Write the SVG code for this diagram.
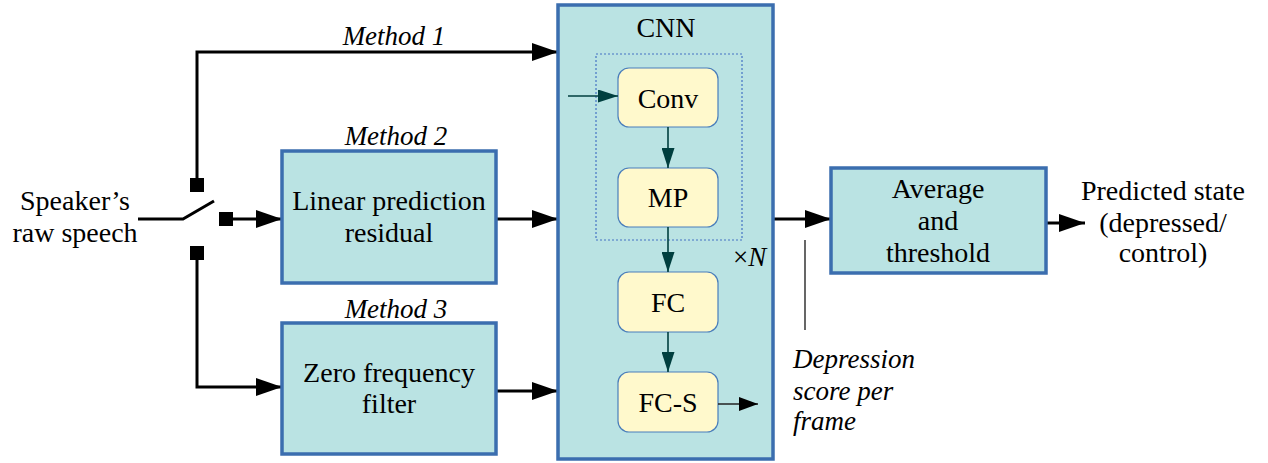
<svg xmlns="http://www.w3.org/2000/svg" id="diagram" width="1268" height="463" viewBox="0 0 1268 463">
  <style>
    #diagram text, #diagram tspan { font-family: "Liberation Serif", "Times New Roman", serif !important; }
    .blk { fill: #bae3e3; stroke: #3b6eaf; stroke-width: 3.5; }
    .cell { fill: #fff9cc; stroke: #4a7ebb; stroke-width: 1.2; }
    .lbl { font-size: 28px; fill: #000; text-anchor: middle; }
    .it { font-size: 27px; font-style: italic; fill: #000; }
  </style>
  <defs>
    <marker id="bigHead" markerUnits="userSpaceOnUse" markerWidth="26" markerHeight="18" refX="26" refY="9" orient="auto">
      <path d="M0,0 L26,9 L0,18 z" fill="#000"/>
    </marker>
    <marker id="tealHead" markerUnits="userSpaceOnUse" markerWidth="20" markerHeight="13" refX="20" refY="6.5" orient="auto">
      <path d="M0,0 L20,6.5 L0,13 z" fill="#003f3f"/>
    </marker>
    <marker id="outHead" markerUnits="userSpaceOnUse" markerWidth="19" markerHeight="14" refX="19" refY="7" orient="auto">
      <path d="M0,0 L19,7 L0,14 z" fill="#000"/>
    </marker>
  </defs>

  <!-- input label -->
  <g id="input">
    <text class="lbl" x="75" y="210" font-family="Liberation Serif" style="font-family:'Liberation Serif',serif !important">Speaker’s</text>
    <text class="lbl" x="75" y="242" font-family="Liberation Serif" style="font-family:'Liberation Serif',serif !important">raw speech</text>
  </g>

  <!-- selector switch with its three contacts -->
  <g id="switch">
    <polyline points="138,219 183,219 214,201" fill="none" stroke="#000" stroke-width="3"/>
    <rect x="190" y="178" width="14" height="14" fill="#000"/>
    <rect x="219" y="212" width="14" height="14" fill="#000"/>
    <rect x="190" y="246" width="14" height="14" fill="#000"/>
  </g>

  <!-- connectors -->
  <g id="connectors" fill="none" stroke="#000" stroke-width="3">
    <polyline points="197,178 197,52 558,52" marker-end="url(#bigHead)"/>
    <line x1="233" y1="219" x2="282" y2="219" marker-end="url(#bigHead)"/>
    <polyline points="197,260 197,387 282,387" marker-end="url(#bigHead)"/>
    <line x1="497" y1="219" x2="558" y2="219" marker-end="url(#bigHead)"/>
    <line x1="497" y1="391" x2="558" y2="391" marker-end="url(#bigHead)"/>
    <line x1="773" y1="219" x2="831" y2="219" marker-end="url(#bigHead)"/>
    <line x1="1046" y1="223" x2="1085" y2="223" marker-end="url(#bigHead)"/>
    <line x1="805" y1="240" x2="805" y2="330" stroke-width="1.2"/>
  </g>

  <!-- method labels -->
  <g id="method-labels">
    <text class="it" x="394" y="45" text-anchor="middle" font-family="Liberation Serif" style="font-family:'Liberation Serif',serif !important">Method 1</text>
    <text class="it" x="396" y="145" text-anchor="middle" font-family="Liberation Serif" style="font-family:'Liberation Serif',serif !important">Method 2</text>
    <text class="it" x="396" y="318" text-anchor="middle" font-family="Liberation Serif" style="font-family:'Liberation Serif',serif !important">Method 3</text>
  </g>

  <g id="lpr">
    <rect class="blk" x="282" y="151" width="214" height="132"/>
    <text class="lbl" x="389" y="210" font-family="Liberation Serif" style="font-family:'Liberation Serif',serif !important">Linear prediction</text>
    <text class="lbl" x="389" y="242" font-family="Liberation Serif" style="font-family:'Liberation Serif',serif !important">residual</text>
  </g>

  <g id="zff">
    <rect class="blk" x="282" y="323" width="214" height="131"/>
    <text class="lbl" x="389" y="382" font-family="Liberation Serif" style="font-family:'Liberation Serif',serif !important">Zero frequency</text>
    <text class="lbl" x="389" y="413" font-family="Liberation Serif" style="font-family:'Liberation Serif',serif !important">filter</text>
  </g>

  <!-- CNN block with its repeated conv/pool outline -->
  <g id="cnn">
    <rect class="blk" x="558" y="5" width="215" height="454"/>
    <text class="lbl" x="666" y="37" font-family="Liberation Serif" style="font-family:'Liberation Serif',serif !important">CNN</text>
    <rect x="596" y="54" width="146" height="186" fill="none" stroke="#4472c4" stroke-width="1.2" stroke-dasharray="2,2"/>
    <text x="733" y="266" font-size="27" font-family="Liberation Serif" style="font-family:'Liberation Serif',serif !important">×<tspan font-style="italic">N</tspan></text>
  </g>

  <g id="conv">
    <rect class="cell" x="618" y="68" width="100" height="59" rx="11"/>
    <text class="lbl" x="668" y="108" font-family="Liberation Serif" style="font-family:'Liberation Serif',serif !important">Conv</text>
  </g>
  <g id="mp">
    <rect class="cell" x="618" y="168" width="100" height="59" rx="11"/>
    <text class="lbl" x="668" y="207" font-family="Liberation Serif" style="font-family:'Liberation Serif',serif !important">MP</text>
  </g>
  <g id="fc">
    <rect class="cell" x="618" y="272" width="100" height="60" rx="11"/>
    <text class="lbl" x="668" y="312" font-family="Liberation Serif" style="font-family:'Liberation Serif',serif !important">FC</text>
  </g>
  <g id="fcs">
    <rect class="cell" x="618" y="372" width="100" height="60" rx="11"/>
    <text class="lbl" x="668" y="412" font-family="Liberation Serif" style="font-family:'Liberation Serif',serif !important">FC-S</text>
  </g>

  <g id="cnn-links" fill="none" stroke="#003f3f" stroke-width="1.6">
    <line x1="568" y1="96" x2="618" y2="96" marker-end="url(#tealHead)"/>
    <line x1="668" y1="127" x2="668" y2="168" marker-end="url(#tealHead)"/>
    <line x1="668" y1="227" x2="668" y2="272" marker-end="url(#tealHead)"/>
    <line x1="668" y1="332" x2="668" y2="372" marker-end="url(#tealHead)"/>
    <line x1="718" y1="404" x2="758" y2="404" stroke="#222" marker-end="url(#outHead)"/>
  </g>

  <g id="avg">
    <rect class="blk" x="831" y="168" width="215" height="105"/>
    <text class="lbl" x="938" y="198" font-family="Liberation Serif" style="font-family:'Liberation Serif',serif !important">Average</text>
    <text class="lbl" x="938" y="230" font-family="Liberation Serif" style="font-family:'Liberation Serif',serif !important">and</text>
    <text class="lbl" x="938" y="262" font-family="Liberation Serif" style="font-family:'Liberation Serif',serif !important">threshold</text>
  </g>

  <g id="output">
    <text class="lbl" x="1163" y="200" font-family="Liberation Serif" style="font-family:'Liberation Serif',serif !important">Predicted state</text>
    <text class="lbl" x="1163" y="232" font-family="Liberation Serif" style="font-family:'Liberation Serif',serif !important">(depressed/</text>
    <text class="lbl" x="1163" y="262" font-family="Liberation Serif" style="font-family:'Liberation Serif',serif !important">control)</text>
  </g>

  <g id="score-note">
    <text class="it" x="793" y="368" font-family="Liberation Serif" style="font-family:'Liberation Serif',serif !important">Depression</text>
    <text class="it" x="793" y="400" font-family="Liberation Serif" style="font-family:'Liberation Serif',serif !important">score per</text>
    <text class="it" x="793" y="430" font-family="Liberation Serif" style="font-family:'Liberation Serif',serif !important">frame</text>
  </g>
</svg>
